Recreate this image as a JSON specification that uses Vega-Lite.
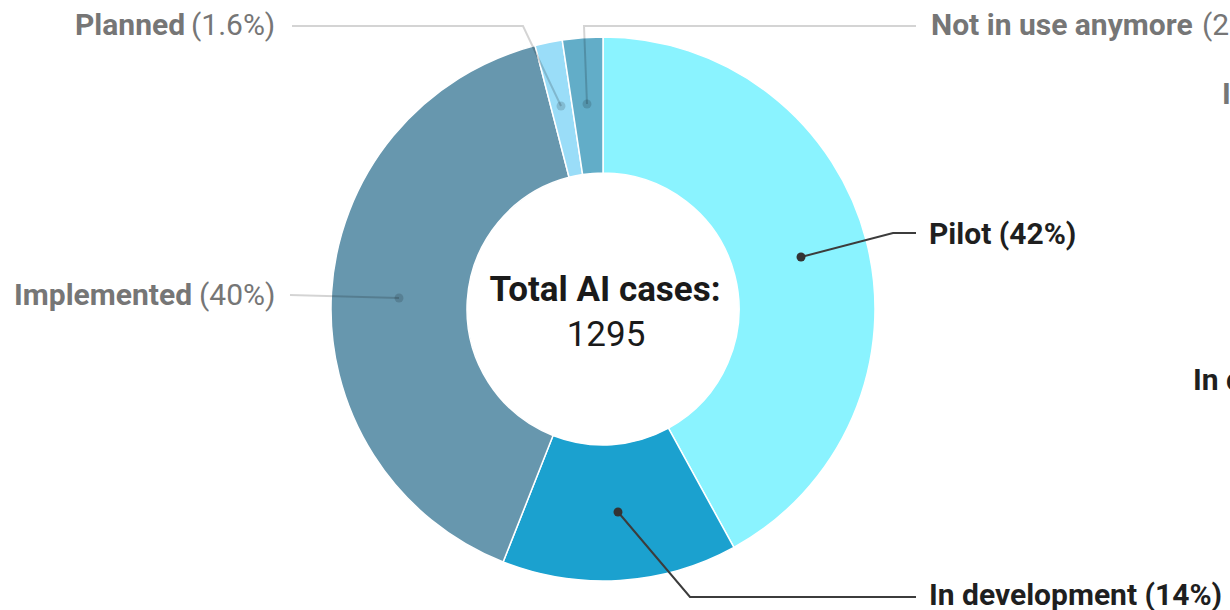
{
  "$schema": "https://vega.github.io/schema/vega-lite/v6.json",
  "width": 1230,
  "height": 610,
  "padding": 0,
  "autosize": {"type": "none"},
  "background": "white",
  "config": {"view": {"stroke": null}, "font": "Roboto"},
  "resolve": {"scale": {"color": "independent", "opacity": "independent"}},
  "datasets": {
    "slices": [
      {"status": "Pilot", "count": 544, "ord": 1},
      {"status": "In development", "count": 181, "ord": 2},
      {"status": "Implemented", "count": 518, "ord": 3},
      {"status": "Planned", "count": 21, "ord": 4},
      {"status": "Not in use anymore", "count": 31, "ord": 5}
    ],
    "leaders": [
      {"label": "Pilot", "seq": 1, "x": 801, "y": 257, "tone": "dark"},
      {"label": "Pilot", "seq": 2, "x": 893, "y": 233, "tone": "dark"},
      {"label": "Pilot", "seq": 3, "x": 916, "y": 233, "tone": "dark"},
      {"label": "In development", "seq": 1, "x": 618, "y": 512, "tone": "dark"},
      {"label": "In development", "seq": 2, "x": 690, "y": 597, "tone": "dark"},
      {"label": "In development", "seq": 3, "x": 916, "y": 597, "tone": "dark"},
      {"label": "Implemented", "seq": 1, "x": 399, "y": 298, "tone": "light"},
      {"label": "Implemented", "seq": 2, "x": 290, "y": 295, "tone": "light"},
      {"label": "Planned", "seq": 1, "x": 561, "y": 106, "tone": "light"},
      {"label": "Planned", "seq": 2, "x": 523, "y": 26, "tone": "light"},
      {"label": "Planned", "seq": 3, "x": 292, "y": 26, "tone": "light"},
      {"label": "Not in use anymore", "seq": 1, "x": 587, "y": 104, "tone": "light"},
      {"label": "Not in use anymore", "seq": 2, "x": 584, "y": 26, "tone": "light"},
      {"label": "Not in use anymore", "seq": 3, "x": 916, "y": 26, "tone": "light"}
    ],
    "dots": [
      {"label": "Pilot", "x": 801, "y": 257, "tone": "dark"},
      {"label": "In development", "x": 618, "y": 512, "tone": "dark"},
      {"label": "Implemented", "x": 399, "y": 298, "tone": "light"},
      {"label": "Planned", "x": 561, "y": 106, "tone": "light"},
      {"label": "Not in use anymore", "x": 587, "y": 104, "tone": "light"}
    ],
    "labels": [
      {"text": "Pilot (42%)", "x": 929, "y": 235, "style": "boldDark"},
      {"text": "In development (14%)", "x": 929, "y": 596, "style": "boldDark"},
      {"text": "In development (14%)", "x": 1193, "y": 381, "style": "boldDark"},
      {"text": "Planned", "x": 75, "y": 26, "style": "boldGray"},
      {"text": "(1.6%)", "x": 191, "y": 26, "style": "normalGray"},
      {"text": "Implemented", "x": 14, "y": 296, "style": "boldGray"},
      {"text": "(40%)", "x": 199, "y": 296, "style": "normalGray"},
      {"text": "Not in use anymore", "x": 931, "y": 26, "style": "boldGray"},
      {"text": "(2.4%)", "x": 1202, "y": 26, "style": "normalGray"},
      {"text": "In use (38%)", "x": 1222, "y": 95, "style": "boldGray"}
    ],
    "center": [
      {"text": "Total AI cases:", "x": 605, "y": 290, "style": "bold"},
      {"text": "1295", "x": 606, "y": 335, "style": "normal"}
    ]
  },
  "layer": [
    {
      "data": {"name": "slices"},
      "mark": {"type": "arc", "outerRadius": 272, "innerRadius": 136, "stroke": "white", "strokeWidth": 1.5},
      "encoding": {
        "x": {"datum": 603, "type": "quantitative", "scale": {"domain": [0, 1230], "nice": false, "zero": false}, "axis": null},
        "y": {"datum": 309, "type": "quantitative", "scale": {"domain": [0, 610], "nice": false, "zero": false, "reverse": true}, "axis": null},
        "theta": {"field": "count", "type": "quantitative", "stack": true},
        "order": {"field": "ord", "type": "quantitative"},
        "color": {
          "field": "status", "type": "nominal", "legend": null,
          "scale": {
            "domain": ["Pilot", "In development", "Implemented", "Planned", "Not in use anymore"],
            "range": ["#8AF3FF", "#1BA1CF", "#6797AE", "#9ADDF8", "#62ADC8"]
          }
        }
      }
    },
    {
      "data": {"name": "leaders"},
      "mark": {"type": "line", "strokeWidth": 2},
      "encoding": {
        "x": {"field": "x", "type": "quantitative", "scale": {"domain": [0, 1230], "nice": false, "zero": false}, "axis": null},
        "y": {"field": "y", "type": "quantitative", "scale": {"domain": [0, 610], "nice": false, "zero": false, "reverse": true}, "axis": null},
        "detail": {"field": "label"},
        "order": {"field": "seq", "type": "quantitative"},
        "color": {"field": "tone", "type": "nominal", "legend": null, "scale": {"domain": ["dark", "light"], "range": ["#3c3c3c", "#000000"]}},
        "opacity": {"field": "tone", "type": "nominal", "legend": null, "scale": {"domain": ["dark", "light"], "range": [1, 0.17]}}
      }
    },
    {
      "data": {"name": "dots"},
      "mark": {"type": "circle", "size": 80},
      "encoding": {
        "x": {"field": "x", "type": "quantitative", "scale": {"domain": [0, 1230], "nice": false, "zero": false}, "axis": null},
        "y": {"field": "y", "type": "quantitative", "scale": {"domain": [0, 610], "nice": false, "zero": false, "reverse": true}, "axis": null},
        "color": {"field": "tone", "type": "nominal", "legend": null, "scale": {"domain": ["dark", "light"], "range": ["#333333", "#000000"]}},
        "opacity": {"field": "tone", "type": "nominal", "legend": null, "scale": {"domain": ["dark", "light"], "range": [1, 0.15]}}
      }
    },
    {
      "data": {"name": "labels"},
      "transform": [{"filter": "datum.style === 'boldDark'"}],
      "mark": {"type": "text", "align": "left", "baseline": "middle", "fontSize": 30, "fontWeight": "bold", "color": "#1f1f1f"},
      "encoding": {
        "x": {"field": "x", "type": "quantitative", "scale": {"domain": [0, 1230], "nice": false, "zero": false}, "axis": null},
        "y": {"field": "y", "type": "quantitative", "scale": {"domain": [0, 610], "nice": false, "zero": false, "reverse": true}, "axis": null},
        "text": {"field": "text"}
      }
    },
    {
      "data": {"name": "labels"},
      "transform": [{"filter": "datum.style === 'boldGray'"}],
      "mark": {"type": "text", "align": "left", "baseline": "middle", "fontSize": 30, "fontWeight": "bold", "color": "#767676"},
      "encoding": {
        "x": {"field": "x", "type": "quantitative", "scale": {"domain": [0, 1230], "nice": false, "zero": false}, "axis": null},
        "y": {"field": "y", "type": "quantitative", "scale": {"domain": [0, 610], "nice": false, "zero": false, "reverse": true}, "axis": null},
        "text": {"field": "text"}
      }
    },
    {
      "data": {"name": "labels"},
      "transform": [{"filter": "datum.style === 'normalGray'"}],
      "mark": {"type": "text", "align": "left", "baseline": "middle", "fontSize": 30, "fontWeight": "normal", "color": "#767676"},
      "encoding": {
        "x": {"field": "x", "type": "quantitative", "scale": {"domain": [0, 1230], "nice": false, "zero": false}, "axis": null},
        "y": {"field": "y", "type": "quantitative", "scale": {"domain": [0, 610], "nice": false, "zero": false, "reverse": true}, "axis": null},
        "text": {"field": "text"}
      }
    },
    {
      "data": {"name": "center"},
      "transform": [{"filter": "datum.style === 'bold'"}],
      "mark": {"type": "text", "align": "center", "baseline": "middle", "fontSize": 35, "fontWeight": "bold", "color": "#1a1a1a"},
      "encoding": {
        "x": {"field": "x", "type": "quantitative", "scale": {"domain": [0, 1230], "nice": false, "zero": false}, "axis": null},
        "y": {"field": "y", "type": "quantitative", "scale": {"domain": [0, 610], "nice": false, "zero": false, "reverse": true}, "axis": null},
        "text": {"field": "text"}
      }
    },
    {
      "data": {"name": "center"},
      "transform": [{"filter": "datum.style === 'normal'"}],
      "mark": {"type": "text", "align": "center", "baseline": "middle", "fontSize": 35, "fontWeight": "normal", "color": "#1a1a1a"},
      "encoding": {
        "x": {"field": "x", "type": "quantitative", "scale": {"domain": [0, 1230], "nice": false, "zero": false}, "axis": null},
        "y": {"field": "y", "type": "quantitative", "scale": {"domain": [0, 610], "nice": false, "zero": false, "reverse": true}, "axis": null},
        "text": {"field": "text"}
      }
    }
  ]
}
